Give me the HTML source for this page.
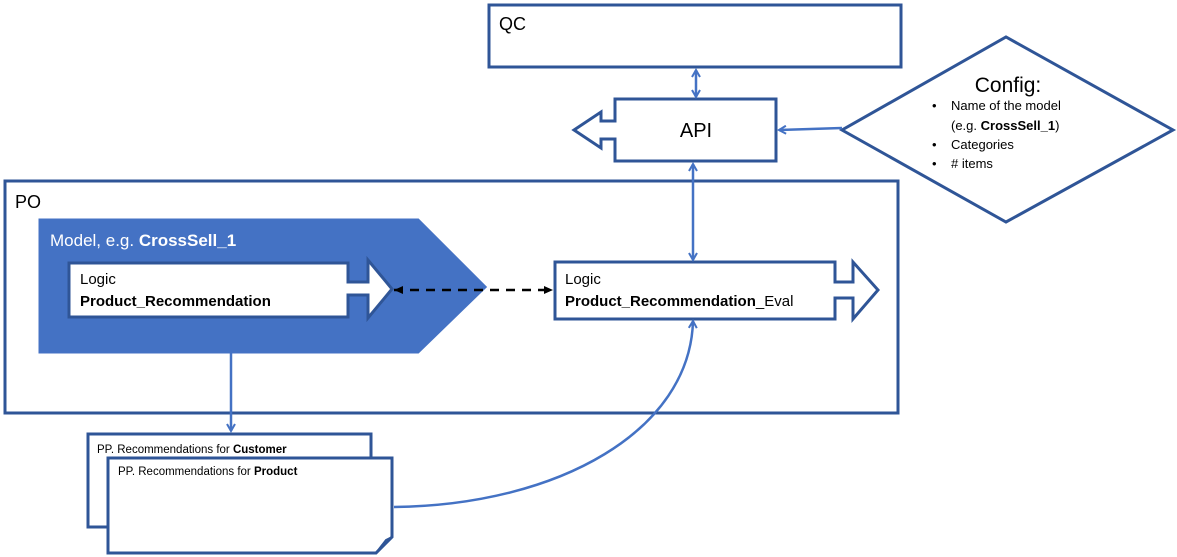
<!DOCTYPE html>
<html><head><meta charset="utf-8"><style>
html,body{margin:0;padding:0;background:#fff;}
svg{display:block;font-family:"Liberation Sans",sans-serif;}
</style></head><body>
<svg width="1177" height="557" viewBox="0 0 1177 557" xmlns="http://www.w3.org/2000/svg">
<defs>
<marker id="ab" markerWidth="10" markerHeight="10" refX="8" refY="5" orient="auto-start-reverse" markerUnits="userSpaceOnUse">
<path d="M1,1 L8,5 L1,9" fill="none" stroke="#4472C4" stroke-width="2"/>
</marker>
<marker id="ak" markerWidth="10" markerHeight="10" refX="9" refY="5" orient="auto-start-reverse" markerUnits="userSpaceOnUse">
<path d="M0,1 L9,5 L0,9 Z" fill="#000"/>
</marker>
</defs>
<g stroke="#2F5597" stroke-width="3" fill="#fff">
<rect x="489" y="5" width="412" height="62"/>
<path d="M615,99 H776 V161 H615 V139 H601 V148 L574,130 L601,112 V121 H615 Z"/>
<polygon points="842,130 1006,37 1173,130 1006,222"/>
<rect x="5" y="181" width="893" height="232"/>
<polygon points="40,220 418,220 485,287 418,352 40,352" fill="#4472C4" stroke="#4472C4"/>
<path d="M69,263 H348 V282 H368 V260 L392,289 L368,318 V295 H348 V317 H69 Z"/>
<path d="M555,262 H835 V282 H853 V262 L878,290 L853,319 V298 H835 V319 H555 Z"/>
<rect x="88" y="434" width="283" height="93"/>
<path d="M108,458 H392 V537 L376,553 H108 Z"/>
<path d="M392,537 L386,540 L376,553 Z" fill="#bbb" stroke-width="2"/>
</g>
<g stroke="#4472C4" stroke-width="2.5" fill="none">
<line x1="696" y1="70" x2="696" y2="97" marker-start="url(#ab)" marker-end="url(#ab)"/>
<line x1="693" y1="164" x2="693" y2="260" marker-start="url(#ab)" marker-end="url(#ab)"/>
<line x1="842" y1="128" x2="779" y2="130" marker-end="url(#ab)"/>
<line x1="231" y1="352" x2="231" y2="431" marker-end="url(#ab)"/>
<path d="M394,507 C560,505 690,430 693,321" marker-end="url(#ab)"/>
</g>
<line x1="394" y1="290" x2="553" y2="290" stroke="#000" stroke-width="2.5" stroke-dasharray="9,7" marker-start="url(#ak)" marker-end="url(#ak)"/>
<g font-size="18" fill="#000">
<text x="499" y="30">QC</text>
<text x="696" y="137" text-anchor="middle" font-size="20">API</text>
<text x="15" y="208">PO</text>
<text x="1008" y="92" text-anchor="middle" font-size="21">Config:</text>
</g>
<g font-size="13" fill="#000">
<text x="932" y="110">•</text><text x="951" y="110">Name of the model</text>
<text x="951" y="130">(e.g. <tspan font-weight="bold">CrossSell_1</tspan>)</text>
<text x="932" y="149">•</text><text x="951" y="149">Categories</text>
<text x="932" y="168">•</text><text x="951" y="168"># items</text>
</g>
<text x="50" y="246" font-size="17" fill="#fff">Model, e.g. <tspan font-weight="bold">CrossSell_1</tspan></text>
<g font-size="15" fill="#000">
<text x="80" y="284">Logic</text>
<text x="80" y="306" font-weight="bold">Product_Recommendation</text>
<text x="565" y="284">Logic</text>
<text x="565" y="306"><tspan font-weight="bold">Product_Recommendation</tspan>_Eval</text>
</g>
<g font-size="11.5" fill="#000">
<text x="97" y="453">PP. Recommendations for <tspan font-weight="bold">Customer</tspan></text>
<text x="118" y="475">PP. Recommendations for <tspan font-weight="bold">Product</tspan></text>
</g>
</svg>
</body></html>
